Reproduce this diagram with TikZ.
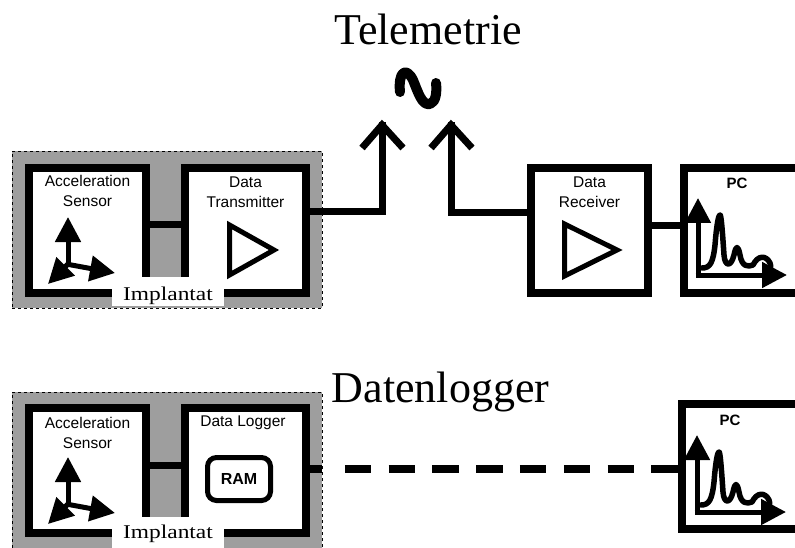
\documentclass[tikz,border=0pt]{standalone}
\usepackage{fontspec}
\setmainfont{Liberation Serif}
\setsansfont{Liberation Sans}
\usetikzlibrary{arrows.meta,calc}
\tikzset{
  box/.style={draw, line width=7.5pt, fill=white, inner sep=0pt, minimum height=125pt},
  wire/.style={line width=7pt},
  implant/.style={draw, dashed, line width=0.8pt, fill=black!38, inner sep=0pt, anchor=north west},
  patch/.style={fill=white, inner sep=0pt, anchor=north west},
  lab/.style={font=\sffamily\fontsize{15.5}{20.5}\selectfont, align=center, inner sep=0pt},
  boldlab/.style={font=\sffamily\bfseries\fontsize{15}{18}\selectfont, inner sep=0pt},
  title/.style={font=\fontsize{44}{50}\selectfont, inner sep=0pt, anchor=base},
  implab/.style={font=\fontsize{19.5}{22}\selectfont, inner sep=0pt, anchor=base},
  axisline/.style={line width=5pt, -{Triangle[length=25pt,width=25pt]}},
  ampline/.style={line width=5pt, line join=miter},
  curve/.style={line width=5.5pt, line cap=round, line join=round},
  pcgraph/.pic={
    \draw[axisline] (0,0) -- (0,-77);
    \draw[axisline] (-2.5,0) -- (89,0);
    \draw[curve] (4,-7) .. controls (12,-7) and (15,-12) .. (17,-30)
      .. controls (19,-55) and (21,-60) .. (22,-60)
      .. controls (23,-60) and (24,-50) .. (26,-20)
      .. controls (27,-8) and (33,-8) .. (36,-20)
      .. controls (38,-30) and (40,-30) .. (42,-20)
      .. controls (44,-8) and (50,-8) .. (55,-10)
      .. controls (60,-20) and (68,-20) .. (72,-12)
      .. controls (73,-9) .. (72,-6);
  },
  sensoraxes/.pic={
    \draw[axisline] (0,0) -- (0,-48);
    \draw[axisline] (-2,-1) -- (47,8);
    \draw[axisline] (0,-1) -- (-20,19);
  }
}
\begin{document}
\begin{tikzpicture}[x=1pt,y=-1pt]
\useasboundingbox (0,0) rectangle (795,548);
\fill[white] (0,0) rectangle (795,548);

% ---------- titles ----------
\node[title] (teltitle) at (428,45) {Telemetrie};
\node[title] (dltitle) at (440.5,402) {Datenlogger};

% ---------- top row: implant ----------
\node[implant, minimum width=310pt, minimum height=157pt] (imp1) at (12,151) {};
\node[box, minimum width=117pt] (sensor1) at (87.5,230.5) {};
\node[box, minimum width=121pt] (tx) at (245.5,230.5) {};
\draw[wire] ([yshift=5.5pt]sensor1.east) -- ([yshift=5.5pt]tx.west);
\node[patch, minimum width=112pt, minimum height=29pt] (imp1patch) at (112,277) {};
\node[lab] (sensor1lab) at (87.5,191) {Acceleration\\Sensor};
\node[lab] (txlab) at (245.5,192) {Data\\Transmitter};
\pic at (68,265) {sensoraxes};
\draw[ampline] (229.5,225) -- (274,250) -- (229.5,275) -- cycle;
\node[implab] (imp1lab) at (168,300) {\scalebox{1.2}[1]{Implantat}};

% ---------- telemetry link ----------
\coordinate (ant1) at (382,122);
\coordinate (ant2) at (451,122);
\node[box, minimum width=117pt] (rx) at (589.5,230.5) {};
\node[box, minimum width=160pt] (pc1) at (764,230.5) {};
\draw[wire, line join=miter] ([yshift=18.5pt]tx.east) -| (ant1);
\draw[wire, line join=miter] ([yshift=17.5pt]rx.west) -| (ant2);
\draw[wire, line join=miter] ($(ant1)+(-20,26)$) -- ([yshift=-3pt]ant1) -- ($(ant1)+(21,26)$);
\draw[wire, line join=miter] ($(ant2)+(-20,26)$) -- ([yshift=-3pt]ant2) -- ($(ant2)+(21,26)$);
\draw[line width=10pt, line cap=round, line join=round]
  (400,92) .. controls (398,72) and (406,66) .. (413,80)
  .. controls (418,92) and (422,106) .. (430,104)
  .. controls (436,102) and (437,92) .. (436,83);
\draw[wire] ([yshift=4.5pt]rx.east) -- ([yshift=4.5pt]pc1.west);
\node[lab] (rxlab) at (589.5,192) {Data\\Receiver};
\draw[ampline] (564.5,224) -- (617,250) -- (564.5,276) -- cycle;
\node[boldlab] (pc1lab) at (737,183) {PC};
\pic at (698,275) {pcgraph};

% ---------- bottom row: implant ----------
\node[implant, minimum width=310pt, minimum height=175pt] (imp2) at (12,392) {};
\node[box, minimum width=117pt] (sensor2) at (87.5,470.5) {};
\node[box, minimum width=121pt] (logger) at (245.5,470.5) {};
\draw[wire] ([yshift=5.5pt]sensor2.east) -- ([yshift=5.5pt]logger.west);
\node[patch, minimum width=112pt, minimum height=40pt] (imp2patch) at (112,517) {};
\node[lab] (sensor2lab) at (87.5,433) {Acceleration\\Sensor};
\node[lab] (loggerlab) at (243,423) {Data Logger};
\node[draw, line width=5pt, rounded corners=9pt, minimum width=63pt, minimum height=43pt,
      inner sep=0pt, font=\sffamily\bfseries\fontsize{16}{18}\selectfont] (ram) at (239,479) {RAM};
\pic at (68,505) {sensoraxes};
\node[implab] (imp2lab) at (168,538) {\scalebox{1.2}[1]{Implantat}};

% ---------- datalogger link ----------
\node[box, minimum width=160pt] (pc2) at (762,466.5) {};
\draw[line width=8.5pt, dash pattern=on 12pt off 23pt on 26.5pt off 17.3pt on 26.5pt off 17.3pt on 26.5pt off 17.3pt on 26.5pt off 17.3pt on 26.5pt off 17.3pt on 26.5pt off 17.3pt on 26.5pt off 17.3pt on 40pt off 200pt]
  ([yshift=1.5pt]logger.east) -- ([yshift=1.5pt]logger.east -| pc2.west);
\node[boldlab] (pc2lab) at (730,420) {PC};
\pic at (697,512) {pcgraph};
\end{tikzpicture}
\end{document}
